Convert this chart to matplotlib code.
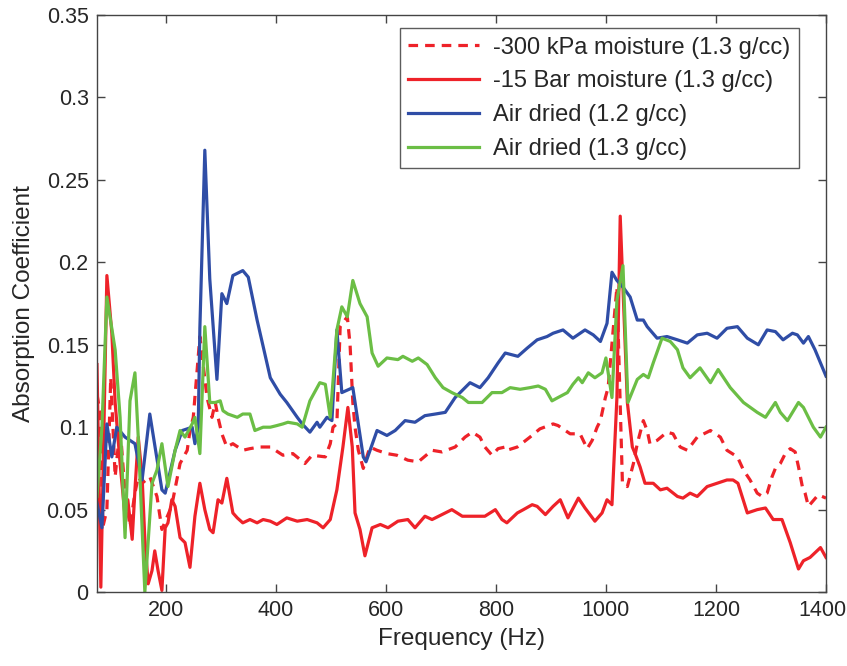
import matplotlib
matplotlib.use("Agg")
import matplotlib.pyplot as plt
import matplotlib.transforms as mtransforms
from matplotlib.ticker import FuncFormatter

plt.rcParams['font.family'] = ['Liberation Sans', 'DejaVu Sans']

# -300 kPa moisture (1.3 g/cc) - dashed red
f_kpa = [75, 80, 86, 93, 100, 108, 117, 126, 135, 144, 150, 157, 171, 184, 193, 208, 213,
         226, 239, 244, 250, 262, 275, 284, 290, 295, 302, 311, 322, 340, 353, 371, 390,
         413, 431, 453, 466, 490, 499, 504, 511, 517, 530, 535, 540, 544, 550, 559, 571,
         584, 602, 620, 640, 659, 684, 702, 726, 744, 757, 771, 780, 793, 804, 817, 820,
         839, 862, 880, 904, 913, 935, 953, 966, 975, 984, 990, 999, 1004, 1020, 1030,
         1039, 1050, 1057, 1068, 1075, 1080, 1093, 1111, 1122, 1135, 1148, 1166, 1190,
         1208, 1220, 1239, 1250, 1262, 1275, 1284, 1293, 1302, 1308, 1317, 1326, 1335,
         1344, 1350, 1357, 1362, 1368, 1386, 1400]
v_kpa = [0.120, 0.110, 0.040, 0.050, 0.130, 0.070, 0.100, 0.060, 0.040, 0.060, 0.070, 0.066,
         0.070, 0.058, 0.038, 0.050, 0.056, 0.078, 0.086, 0.098, 0.106, 0.155, 0.118, 0.106,
         0.115, 0.106, 0.096, 0.088, 0.090, 0.086, 0.087, 0.088, 0.088, 0.083, 0.084, 0.078,
         0.083, 0.082, 0.090, 0.100, 0.102, 0.161, 0.167, 0.150, 0.115, 0.100, 0.086, 0.075,
         0.088, 0.086, 0.084, 0.083, 0.080, 0.079, 0.086, 0.085, 0.088, 0.094, 0.097, 0.094,
         0.088, 0.083, 0.087, 0.088, 0.086, 0.088, 0.094, 0.099, 0.102, 0.101, 0.096, 0.096,
         0.087, 0.092, 0.100, 0.104, 0.118, 0.124, 0.185, 0.066, 0.064, 0.078, 0.090, 0.104,
         0.098, 0.090, 0.092, 0.097, 0.096, 0.088, 0.086, 0.094, 0.098, 0.094, 0.086, 0.082,
         0.074, 0.068, 0.060, 0.058, 0.060, 0.070, 0.075, 0.078, 0.084, 0.087, 0.085, 0.076,
         0.064, 0.060, 0.052, 0.059, 0.057]

# -15 Bar moisture (1.3 g/cc) - solid red
f_bar = [75, 82, 93, 102, 108, 117, 126, 131, 139, 144, 150, 157, 162, 168, 175, 180, 186,
         193, 199, 204, 211, 217, 226, 235, 244, 253, 262, 271, 280, 286, 295, 302, 311,
         322, 330, 340, 353, 366, 377, 390, 402, 420, 439, 457, 475, 486, 499, 511, 522,
         531, 539, 544, 553, 562, 575, 590, 604, 622, 640, 653, 671, 684, 702, 720, 739,
         762, 780, 799, 811, 820, 839, 850, 866, 875, 890, 904, 917, 931, 950, 962, 980,
         993, 1002, 1011, 1020, 1026, 1039, 1048, 1053, 1062, 1071, 1086, 1099, 1111, 1130,
         1140, 1153, 1166, 1184, 1202, 1220, 1231, 1240, 1257, 1275, 1290, 1304, 1320, 1335,
         1350, 1359, 1371, 1390, 1400]
v_bar = [0.138, 0.003, 0.192, 0.157, 0.115, 0.078, 0.046, 0.056, 0.032, 0.062, 0.094, 0.070,
         0.032, 0.005, 0.013, 0.025, 0.013, 0.001, 0.039, 0.042, 0.056, 0.052, 0.033, 0.030,
         0.015, 0.046, 0.066, 0.050, 0.038, 0.036, 0.056, 0.054, 0.069, 0.048, 0.045, 0.042,
         0.044, 0.042, 0.044, 0.043, 0.041, 0.045, 0.043, 0.044, 0.042, 0.039, 0.044, 0.062,
         0.088, 0.112, 0.088, 0.048, 0.038, 0.022, 0.039, 0.041, 0.039, 0.043, 0.044, 0.039,
         0.046, 0.044, 0.047, 0.050, 0.046, 0.046, 0.046, 0.050, 0.044, 0.042, 0.048, 0.050,
         0.053, 0.052, 0.047, 0.052, 0.056, 0.045, 0.057, 0.051, 0.043, 0.048, 0.056, 0.053,
         0.118, 0.228, 0.115, 0.088, 0.084, 0.076, 0.066, 0.066, 0.062, 0.063, 0.058, 0.057,
         0.060, 0.058, 0.064, 0.066, 0.068, 0.068, 0.066, 0.048, 0.050, 0.051, 0.044, 0.044,
         0.030, 0.014, 0.019, 0.021, 0.027, 0.021]

# Air dried (1.2 g/cc) - blue
f_ad12 = [75, 84, 93, 102, 111, 126, 144, 157, 171, 193, 199, 217, 230, 248, 253, 259, 262,
          271, 280, 293, 302, 311, 322, 340, 350, 366, 377, 390, 408, 420, 439, 448, 462,
          475, 480, 493, 502, 511, 520, 540, 559, 564, 584, 602, 617, 635, 653, 671, 690,
          708, 726, 744, 753, 771, 786, 804, 817, 840, 857, 875, 893, 904, 922, 940, 962,
          977, 990, 1002, 1011, 1020, 1031, 1044, 1057, 1068, 1075, 1093, 1111, 1130, 1148,
          1166, 1184, 1202, 1220, 1239, 1257, 1277, 1293, 1308, 1322, 1339, 1348, 1359,
          1368, 1380, 1400]
v_ad12 = [0.054, 0.039, 0.102, 0.082, 0.100, 0.094, 0.090, 0.068, 0.108, 0.062, 0.060, 0.086,
          0.098, 0.100, 0.090, 0.100, 0.160, 0.268, 0.190, 0.129, 0.181, 0.175, 0.192, 0.195,
          0.191, 0.165, 0.149, 0.130, 0.120, 0.115, 0.106, 0.102, 0.097, 0.103, 0.100, 0.106,
          0.104, 0.159, 0.121, 0.124, 0.082, 0.079, 0.098, 0.095, 0.098, 0.104, 0.103, 0.107,
          0.108, 0.109, 0.118, 0.124, 0.127, 0.124, 0.130, 0.139, 0.145, 0.143, 0.148, 0.153,
          0.155, 0.157, 0.159, 0.154, 0.159, 0.156, 0.152, 0.163, 0.194, 0.189, 0.185, 0.179,
          0.165, 0.165, 0.161, 0.154, 0.155, 0.153, 0.151, 0.156, 0.157, 0.154, 0.160, 0.161,
          0.154, 0.150, 0.159, 0.158, 0.153, 0.157, 0.156, 0.151, 0.155, 0.147, 0.131]

# Air dried (1.3 g/cc) - green
f_ad13 = [75, 84, 93, 108, 117, 126, 135, 144, 150, 162, 175, 184, 193, 204, 217, 226, 235,
          248, 253, 262, 271, 280, 290, 299, 304, 313, 330, 340, 353, 362, 377, 390, 402,
          413, 422, 439, 448, 462, 480, 490, 499, 511, 520, 530, 540, 553, 566, 575, 586,
          602, 622, 631, 648, 659, 675, 690, 704, 720, 739, 750, 762, 775, 793, 811, 826,
          844, 862, 877, 890, 902, 913, 930, 940, 950, 957, 968, 980, 993, 1000, 1011, 1020,
          1031, 1040, 1057, 1068, 1077, 1086, 1102, 1117, 1130, 1140, 1153, 1171, 1190,
          1204, 1226, 1250, 1275, 1290, 1308, 1317, 1330, 1350, 1359, 1377, 1390, 1400]
v_ad13 = [0.058, 0.100, 0.179, 0.147, 0.106, 0.033, 0.116, 0.133, 0.094, 0.000, 0.066, 0.074,
          0.090, 0.064, 0.086, 0.098, 0.094, 0.102, 0.106, 0.084, 0.161, 0.115, 0.115, 0.116,
          0.110, 0.108, 0.106, 0.108, 0.108, 0.098, 0.100, 0.100, 0.101, 0.102, 0.103, 0.102,
          0.100, 0.116, 0.127, 0.126, 0.106, 0.159, 0.173, 0.167, 0.189, 0.175, 0.167, 0.145,
          0.137, 0.142, 0.141, 0.143, 0.140, 0.142, 0.138, 0.130, 0.124, 0.121, 0.118, 0.115,
          0.115, 0.115, 0.121, 0.121, 0.124, 0.123, 0.124, 0.125, 0.123, 0.116, 0.118, 0.121,
          0.126, 0.130, 0.127, 0.133, 0.130, 0.133, 0.142, 0.118, 0.177, 0.198, 0.115, 0.129,
          0.132, 0.130, 0.139, 0.154, 0.152, 0.147, 0.136, 0.130, 0.136, 0.127, 0.135, 0.124,
          0.115, 0.109, 0.106, 0.115, 0.109, 0.104, 0.115, 0.112, 0.100, 0.094, 0.100]

labels = ['-300 kPa moisture (1.3 g/cc)', '-15 Bar moisture (1.3 g/cc)',
          'Air dried (1.2 g/cc)', 'Air dried (1.3 g/cc)']
xticks = [200, 400, 600, 800, 1000, 1200, 1400]
yticks = [0, 0.05, 0.1, 0.15, 0.2, 0.25, 0.3, 0.35]

red = '#EE2229'
blue = '#2F4DA6'
green = '#6BBE45'
txt = '#262626'

fig = plt.figure(figsize=(8.47, 6.66), dpi=100)
ax = fig.add_axes([0.1145, 0.111, 0.8607, 0.8664])

lw = 2.3
ax.plot(f_kpa, v_kpa, color=red, lw=lw, ls=(0, (3.0, 2.2)), label=labels[0])
ax.plot(f_bar, v_bar, color=red, lw=lw, label=labels[1])
ax.plot(f_ad12, v_ad12, color=blue, lw=lw, label=labels[2])
ax.plot(f_ad13, v_ad13, color=green, lw=lw, label=labels[3])

ax.set_xlim(75, 1400)
ax.set_ylim(0, 0.35)
ax.set_xticks(xticks)
ax.set_yticks(yticks)
ax.yaxis.set_major_formatter(FuncFormatter(lambda v, p: ('%g' % round(v, 2))))
ax.tick_params(direction='in', top=True, right=True, length=6, width=1,
               labelsize=15.5, colors='#444444', labelcolor=txt, pad=6)
for s in ax.spines.values():
    s.set_color('#444444')
    s.set_linewidth(1)

# keep the last x tick label inside the canvas
last = ax.xaxis.get_major_ticks()[-1].label1
last.set_transform(last.get_transform() +
                   mtransforms.ScaledTranslation(-4 / 100, 0, fig.dpi_scale_trans))

ax.set_xlabel('Frequency (Hz)', fontsize=17.5, color=txt, labelpad=5)
ax.set_ylabel('Absorption Coefficient', fontsize=17.5, color=txt, labelpad=8)

leg = ax.legend(loc='upper right', bbox_to_anchor=(0.963, 0.9775), fontsize=17,
                frameon=True, fancybox=False, edgecolor='#333333',
                handlelength=3.0, handletextpad=0.6, labelspacing=0.5,
                borderpad=0.36, borderaxespad=0.0)
leg.get_frame().set_linewidth(1)
for t in leg.get_texts():
    t.set_color(txt)

fig.savefig('out.png', dpi=100)
